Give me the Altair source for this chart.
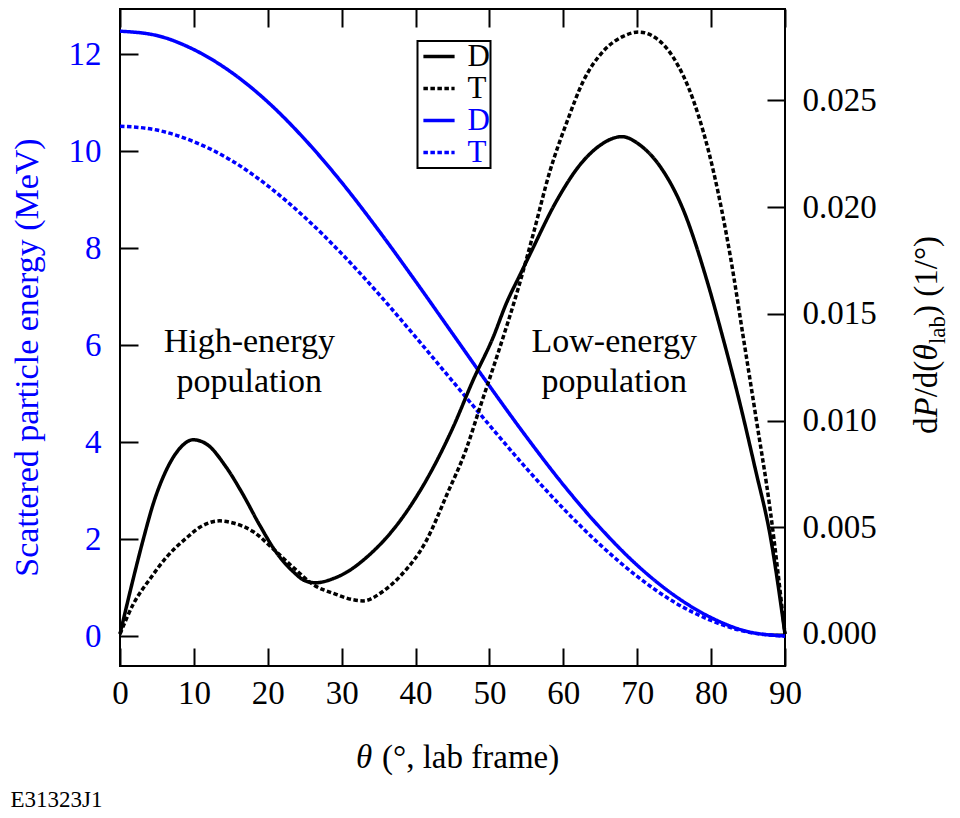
import altair as alt
import pandas as pd

# ---------------- data ----------------
theta_E = [0, 5, 10, 15, 20, 25, 30, 35, 40, 45, 50, 55, 60, 65, 70, 75, 80, 85, 90]
energy_D = [12.48, 12.39, 12.10, 11.64, 11.02, 10.25, 9.36, 8.37, 7.32, 6.24,
            5.16, 4.11, 3.12, 2.23, 1.46, 0.84, 0.38, 0.09, 0.0]
energy_T = [10.52, 10.44, 10.20, 9.82, 9.29, 8.64, 7.89, 7.06, 6.17, 5.26,
            4.35, 3.46, 2.63, 1.88, 1.23, 0.70, 0.32, 0.08, 0.0]

theta_PD = [0, 1.8, 3.2, 4.5, 6.3, 8.1, 9.9, 11.7, 14.4, 16.7,
            18.9, 21.2, 23.5, 25.0, 26.5, 28.9, 30.7, 33.4, 37.9, 42.4,
            45.1, 47.8, 50.5, 52.3, 54.1, 55.5, 59.1, 62.3, 65.0, 67.9,
            70.4, 73.1, 76.2, 79.4, 81.5, 83.9, 86.0, 88.0, 90.0]
dP_D = [0, 0.0026, 0.0045, 0.0061, 0.0077, 0.0087, 0.0091, 0.0089, 0.0078, 0.0065,
        0.0051, 0.0038, 0.0029, 0.0025, 0.0024, 0.0026, 0.0029, 0.0036, 0.0053, 0.0078,
        0.0097, 0.0119, 0.0139, 0.0155, 0.0168, 0.0178, 0.0203, 0.0220, 0.0229, 0.0233,
        0.0229, 0.0219, 0.0199, 0.0166, 0.0140, 0.0108, 0.0077, 0.0046, 0.0]

theta_PT = [0, 1.8, 4.1, 6.3, 9.0, 10.8, 13.5, 15.3, 18.0, 20.7,
            23.5, 26.2, 28.9, 31.6, 32.9, 35.6, 37.9, 41.5, 44.2, 46.9,
            48.7, 51.2, 53.9, 55.9, 58.2, 60.5, 62.7, 65.4, 68.1, 70.2,
            72.6, 74.9, 77.6, 80.3, 82.6, 84.4, 86.0, 88.0, 90.0]
dP_T = [0, 0.0014, 0.0026, 0.0036, 0.0045, 0.0050, 0.0053, 0.0052, 0.0048, 0.0040,
        0.0031, 0.0023, 0.0019, 0.0016, 0.00155, 0.0020, 0.0027, 0.0044, 0.0065, 0.0087,
        0.0106, 0.0132, 0.0162, 0.0187, 0.0217, 0.0240, 0.0259, 0.0273, 0.0280, 0.0282,
        0.0279, 0.0270, 0.0250, 0.0217, 0.0177, 0.0138, 0.0103, 0.0058, 0.0]

series_order = ["D (dP)", "T (dP)", "D (E)", "T (E)"]
series_colors = ["#000000", "#000000", "#0000ff", "#0000ff"]

x_ticks = [0, 10, 20, 30, 40, 50, 60, 70, 80, 90]
e_ticks = [0, 2, 4, 6, 8, 10, 12]
p_ticks = [0.0, 0.005, 0.010, 0.015, 0.020, 0.025]

ann_theta = [17.5, 17.5, 66.9, 66.9]
ann_energy = [5.85, 5.04, 5.85, 5.04]
ann_text = ["High-energy", "population", "Low-energy", "population"]

# ---------------- tables ----------------
df_E = pd.concat([
    pd.DataFrame({"theta": theta_E, "value": energy_D, "series": "D (E)"}),
    pd.DataFrame({"theta": theta_E, "value": energy_T, "series": "T (E)"}),
])
df_P = pd.concat([
    pd.DataFrame({"theta": theta_PD, "value": dP_D, "series": "D (dP)"}),
    pd.DataFrame({"theta": theta_PT, "value": dP_T, "series": "T (dP)"}),
])
df_ann = pd.DataFrame({"theta": ann_theta, "value": ann_energy, "label": ann_text})

FONT = "Liberation Serif"
FS = 33
BLUE = "#0000ff"
TICK = alt.ExprRef(expr="-18")

W, H = 665, 657
OX, OY = 119.5, 8  # page position of the plot origin

common_axis = dict(labelFont=FONT, labelFontSize=FS, titleFont=FONT,
                   tickSize=TICK, tickColor="black", tickWidth=2,
                   domain=False, grid=False)

xscale = alt.Scale(domain=[0, 90], nice=False, zero=False)
X_bottom = alt.X("theta:Q", scale=xscale,
                 axis=alt.Axis(orient="bottom", values=x_ticks, title=None,
                               labelPadding=29, labelFlush=False,
                               labelColor="black", **common_axis))
X_top = alt.X("theta:Q", scale=xscale,
              axis=alt.Axis(orient="top", values=x_ticks, title=None,
                            labels=False, **common_axis))
Y_left = alt.Y("value:Q", scale=alt.Scale(domain=[-0.619, 12.938], nice=False, zero=False),
               axis=alt.Axis(orient="left", values=e_ticks, format="d",
                             title="Scattered particle energy (MeV)",
                             titleFontSize=34, titleFontWeight="normal",
                             titleColor=BLUE, labelColor=BLUE,
                             labelPadding=37, titlePadding=24, titleY=348,
                             labelFlush=False, **common_axis))
Y_right = alt.Y("value:Q", scale=alt.Scale(domain=[-0.0015, 0.02928], nice=False, zero=False),
                axis=alt.Axis(orient="right", values=p_ticks, format=".3f",
                              title=None, labelPadding=35, labelFlush=False,
                              labelColor="black", **common_axis))

legend = alt.Legend(
    title=None, orient="none", legendX=297.5, legendY=32,
    symbolType="M-1.3,0H1.3", symbolSize=576, symbolStrokeWidth=3.5,
    symbolOffset=6, labelOffset=13,
    labelFont=FONT, labelFontSize=31, rowPadding=0, padding=0,
    strokeColor="black",
    labelExpr="substring(datum.value, 0, 1)",
    labelColor=alt.ExprRef(expr="indexof(datum.value, '(E)') >= 0 ? '#0000ff' : '#000000'"),
)
color_enc = alt.Color("series:N", scale=alt.Scale(domain=series_order, range=series_colors),
                      legend=legend)
dash_enc = alt.StrokeDash("series:N",
                          scale=alt.Scale(domain=series_order,
                                          range=[[1, 0], [4.5, 2.5], [1, 0], [4.5, 2.5]]),
                          legend=legend)

lines_E = alt.Chart(df_E).mark_line(strokeWidth=3.5, interpolate="monotone").encode(
    x=X_bottom, y=Y_left, color=color_enc, strokeDash=dash_enc)
ann = alt.Chart(df_ann).mark_text(font=FONT, fontSize=34, color="black",
                                  align="center", baseline="alphabetic").encode(
    x=X_bottom, y=Y_left, text="label:N")
left = alt.layer(lines_E, ann)

lines_P = alt.Chart(df_P).mark_line(strokeWidth=3.5, interpolate="monotone").encode(
    x=X_top, y=Y_right, color=color_enc, strokeDash=dash_enc)
right = alt.layer(lines_P)

one = pd.DataFrame({"k": [0]})


def piece(text, px, py, size=FS, style="normal", angle=0, align="left", color="black"):
    return alt.Chart(one).mark_text(
        font=FONT, fontSize=size, fontStyle=style, angle=angle, align=align,
        baseline="alphabetic", color=color
    ).encode(x=alt.value(px - OX), y=alt.value(py - OY), text=alt.value(text))


# right axis title: dP/d(θ_lab) (1/°), rotated, reading upward
rb = 936.7
pieces = [
    piece("d", rb, 433.0, angle=270),
    piece("P", rb, 416.5, angle=270, style="italic"),
    piece("/d(", rb, 396.3, angle=270),
    piece("θ", rb, 359.6, angle=270, style="italic"),
    piece("lab", rb + 7.5, 343.1, size=23, angle=270),
    piece(") (1/°)", rb, 315.0, angle=270),
    # bottom axis title
    piece("θ", 355.5, 767, style="italic"),
    piece("(°, lab frame)", 381.5, 767),
    # figure id
    piece("E31323J1", 10, 806, size=23),
]

chart = alt.layer(left, right, *pieces).resolve_scale(
    y="independent"
).resolve_axis(
    x="independent", y="independent"
).properties(
    width=W, height=H, padding={"left": 2, "top": 0, "right": 0, "bottom": 0}
).configure_view(
    stroke="black", strokeWidth=2
).configure_legend(
    strokeWidth=2
)

chart.save("out.html", embed_options={"renderer": "svg", "actions": False})
